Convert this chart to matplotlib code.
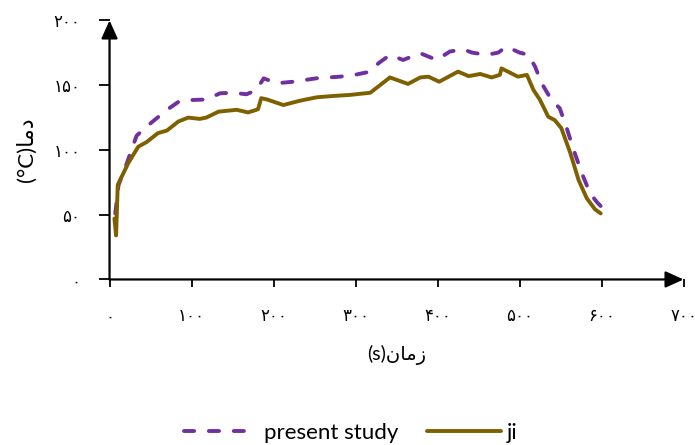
import matplotlib
matplotlib.use("Agg")
import matplotlib.pyplot as plt

plt.rcParams['font.family'] = ['Lato', 'DejaVu Sans']

# present study (dashed)
t_present = [7, 11, 19, 33, 47, 70, 86, 102, 118, 135, 151, 167, 179, 188, 204, 224, 253,
             281, 299, 318, 328, 342, 358, 379, 399, 415, 431, 442, 460, 474, 484, 500, 511,
             519, 527, 539, 549, 557, 566, 576, 586, 594, 600]
T_present = [51, 73, 86, 111, 119, 131, 138, 138.6, 139, 143.8, 144.2, 143, 146.3, 155.3,
             151.5, 152.7, 155.4, 156.6, 158, 160.5, 167, 173.4, 169.5, 174.7, 169.5, 176,
             177.8, 175.2, 173.4, 175.2, 179.8, 175.2, 173.4, 164.3, 151.5, 138.6, 132.2,
             118, 100, 82, 66.6, 60, 56]

# ji (solid)
t_ji = [6, 8, 10, 13, 23, 35, 45, 59, 70, 84, 96, 110, 118, 133, 155, 169, 181, 185, 192,
        212, 232, 253, 273, 293, 318, 342, 364, 379, 389, 402, 425, 438, 452, 466, 476, 478,
        498, 509, 517, 525, 535, 543, 551, 562, 572, 582, 592, 599]
T_ji = [47, 34, 73, 77, 90, 102.5, 106, 113, 115, 122, 125, 124, 125, 129.6, 131, 129,
        131.4, 140, 139, 134.7, 138, 140.7, 141.7, 142.5, 144.2, 156, 151, 156, 156.6,
        152.7, 160.5, 157, 158.7, 156, 158, 163, 156.6, 158, 146.3, 138.6, 125.7, 123,
        116.8, 97.5, 76.8, 62.7, 54.2, 51]

xticks = [0, 100, 200, 300, 400, 500, 600, 700]
yticks = [0, 50, 100, 150, 200]
fa_digits = str.maketrans('0123456789', '۰۱۲۳۴۵۶۷۸۹')

fig = plt.figure(figsize=(6.95, 4.45), dpi=100)
ax = fig.add_axes([0.1576, 0.372, 0.8259, 0.582])

ax.plot(t_present, T_present, color='#7030A0', lw=2.8, linestyle=(0, (2.6, 3.8)),
        dash_capstyle='round', label='present study')
ax.plot(t_ji, T_ji, color='#7F6000', lw=2.8, solid_capstyle='round', label='ji')

ax.set_xlim(0, 700)
ax.set_ylim(0, 200)
ax.set_xticks(xticks)
ax.set_yticks(yticks)
ax.set_xticklabels([str(v).translate(fa_digits) for v in xticks], fontsize=12,
                   family='DejaVu Sans')
ax.set_yticklabels([str(v).translate(fa_digits) for v in yticks], fontsize=12,
                   family='DejaVu Sans')
ax.tick_params(axis='x', direction='out', length=6, width=1.3, pad=14)
ax.tick_params(axis='y', direction='out', length=8, width=1.3, pad=13)

for s in ['top', 'right', 'left', 'bottom']:
    ax.spines[s].set_visible(False)

# axes with arrow heads
arrow = dict(arrowstyle='-|>,head_length=0.55,head_width=0.25', lw=1.6, color='black',
             shrinkA=0, shrinkB=0, mutation_scale=20)
ax.annotate('', xy=(0, 1), xytext=(0, 0), xycoords='axes fraction',
            textcoords='axes fraction', arrowprops=arrow, annotation_clip=False)
ax.annotate('', xy=(1, 0), xytext=(0, 0), xycoords='axes fraction',
            textcoords='axes fraction', arrowprops=arrow, annotation_clip=False)

# Arabic text in visual order with presentation forms
ax.set_xlabel('(s)\ufee5\ufe8e\ufee3\ufeaf', fontsize=14, labelpad=14)
ax.set_ylabel('(°C)\ufe8e\ufee3\ufea9', fontsize=16, labelpad=12)

fig.legend(loc='lower center', bbox_to_anchor=(0.505, -0.04), ncol=2, frameon=False,
           fontsize=16, handlelength=3.3, handletextpad=0.3, columnspacing=1.3)

fig.savefig('out.png', dpi=100)
